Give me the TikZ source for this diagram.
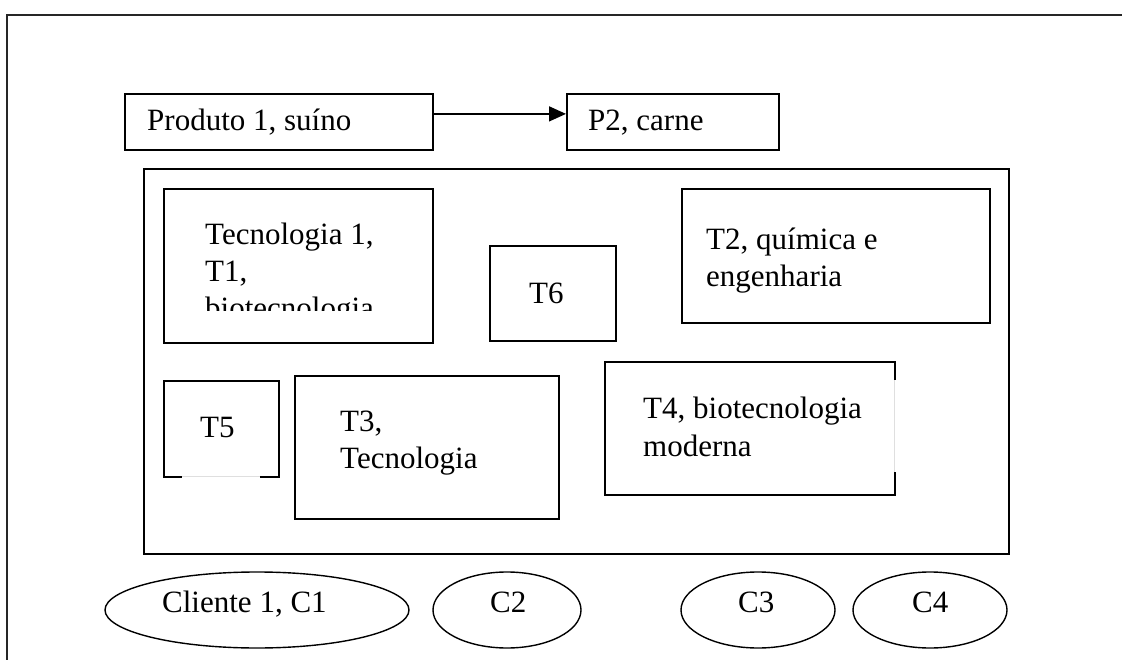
\documentclass[tikz,border=0pt]{standalone}
\usepackage{fontspec}
\setmainfont{Liberation Serif}
\usetikzlibrary{arrows.meta,shapes.geometric}

\tikzset{
  box/.style={draw, line width=1.8pt, inner sep=0pt, anchor=north west},
  ell/.style={draw, ellipse, line width=1.4pt, inner sep=0pt, minimum height=76pt},
  txt/.style={font=\fontsize{31}{37}\selectfont, align=left, inner sep=0pt, anchor=base west},
  gap/.style={white, line width=3pt},
  hair/.style={gray!25, line width=0.8pt}
}

\begin{document}
\begin{tikzpicture}[x=1pt,y=-1pt]
\useasboundingbox (0,0) rectangle (1122,660);
% ---- page frame ----
\draw[line width=1.5pt, black!85] (1122,15) -- (7,15) -- (7,660);
% ---- products ----
\node[box, minimum width=308pt, minimum height=56pt] (prod) at (124,93) {};
\node[box, minimum width=212pt, minimum height=56pt] (p2) at (566,93) {};
\node[txt] (prodtxt) at (147,131) {Produto 1, suíno};
\node[txt] (p2txt) at (588,131) {P2, carne};
\draw[-{Triangle[length=17pt,width=15pt]}, line width=1.5pt]
  ([yshift=8pt]prod.east) -- ([yshift=8pt]p2.west);
% ---- technologies ----
\node[box, minimum width=865pt, minimum height=385pt] (tech) at (143,168) {};
\node[box, minimum width=269pt, minimum height=154pt] (t1) at (163,188) {};
\node[box, minimum width=126pt, minimum height=95pt] (t6) at (489,245) {};
\node[box, minimum width=308pt, minimum height=134pt] (t2) at (681,188) {};
\node[box, minimum width=115pt, minimum height=96pt] (t5) at (163,380) {};
\node[box, minimum width=264pt, minimum height=143pt] (t3) at (294,375) {};
\node[box, minimum width=290pt, minimum height=133pt] (t4) at (604,361) {};
% broken edges
\draw[gap] (182,476) -- (260,476);
\draw[hair] (182,476) -- (260,476);
\draw[gap] (894,380) -- (894,472);
\draw[hair] (894,380) -- (894,472);
\begin{scope}
\clip (163,188) rectangle (432,311);
\node[txt] (t1a) at (205,245) {Tecnologia 1,};
\node[txt] (t1b) at (205,282) {T1,};
\node[txt] (t1c) at (205,319) {biotecnologia};
\end{scope}
\node[txt] (t6txt) at (529,304) {T6};
\node[txt] (t2a) at (706,250) {T2, química e};
\node[txt] (t2b) at (706,287) {engenharia};
\node[txt] (t5txt) at (200,437) {T5};
\node[txt] (t3a) at (340,431) {T3,};
\node[txt] (t3b) at (340,468) {Tecnologia};
\node[txt] (t4a) at (643,418) {T4, biotecnologia};
\node[txt] (t4b) at (643,456) {moderna};
% ---- clients ----
\node[ell, minimum width=304pt] (c1) at (257,610) {};
\node[ell, minimum width=148pt] (c2) at (507,610) {};
\node[ell, minimum width=154pt] (c3) at (758,610) {};
\node[ell, minimum width=154pt] (c4) at (930,610) {};
\node[txt] (c1txt) at (162,612) {Cliente 1, C1};
\node[txt] (c2txt) at (490,612) {C2};
\node[txt] (c3txt) at (738,612) {C3};
\node[txt] (c4txt) at (912,612) {C4};
\end{tikzpicture}
\end{document}
